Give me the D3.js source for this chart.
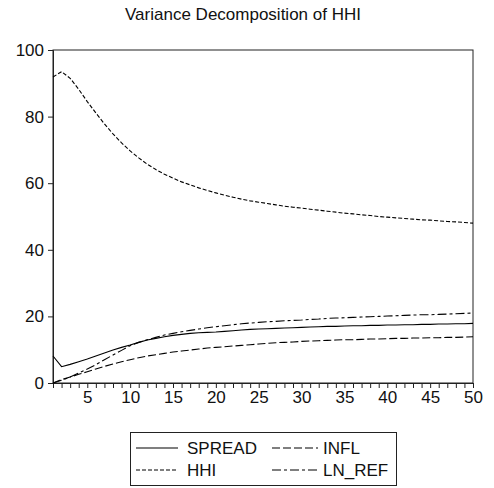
<!DOCTYPE html>
<html>
<head>
<meta charset="utf-8">
<script src="https://cdn.jsdelivr.net/npm/d3@7"></script>
<style>
  html, body { margin: 0; padding: 0; background: #fff; }
  svg { display: block; font-family: "Liberation Sans", Arial, Helvetica, sans-serif; }
</style>
</head>
<body>
<svg id="chart" width="494" height="488"></svg>
<script>
const title = "Variance Decomposition of HHI";
const periods = d3.range(1, 51);
const yTicks = [0, 20, 40, 60, 80, 100];
const xLabelTicks = [5, 10, 15, 20, 25, 30, 35, 40, 45, 50];

const spread = [8.1,4.9,5.6,6.4,7.2,8.1,9.0,9.9,10.7,11.4,12.2,12.9,13.4,13.9,14.3,14.6,14.9,15.1,15.2,15.3,15.5,15.7,15.9,16.1,16.2,16.3,16.4,16.5,16.6,16.7,16.8,16.9,17.0,17.0,17.1,17.2,17.2,17.3,17.3,17.4,17.4,17.5,17.5,17.6,17.6,17.7,17.7,17.8,17.8,17.9];
const hhi = [91.9,93.5,91.5,88.2,84.5,81.1,77.8,74.8,72.1,69.7,67.6,65.7,64.1,62.7,61.5,60.4,59.5,58.6,57.8,57.1,56.4,55.8,55.2,54.7,54.3,53.9,53.5,53.1,52.8,52.5,52.2,51.9,51.6,51.3,51.0,50.8,50.5,50.3,50.0,49.8,49.6,49.4,49.2,49.0,48.9,48.7,48.5,48.4,48.2,48.0];
const infl = [0.0,1.0,1.8,2.6,3.4,4.2,5.0,5.7,6.4,7.0,7.6,8.1,8.5,8.9,9.3,9.6,9.9,10.2,10.5,10.7,10.9,11.1,11.3,11.5,11.7,11.9,12.1,12.2,12.3,12.5,12.6,12.7,12.8,12.9,13.0,13.0,13.1,13.2,13.2,13.3,13.4,13.4,13.5,13.5,13.6,13.6,13.7,13.7,13.8,13.9];
const lnRef = [0.0,0.8,1.8,3.0,4.2,5.5,7.0,8.4,9.8,11.2,12.2,13.0,13.7,14.4,14.9,15.4,15.8,16.2,16.6,16.9,17.2,17.5,17.8,18.0,18.2,18.4,18.5,18.7,18.8,18.9,19.1,19.2,19.4,19.5,19.6,19.7,19.8,19.9,20.0,20.1,20.2,20.3,20.4,20.5,20.5,20.6,20.7,20.8,20.9,21.0];

const seriesNames = ["SPREAD", "HHI", "INFL", "LN_REF"];
const seriesValues = [spread, hhi, infl, lnRef];
const dashes = [null, "4,2", "8,3", "9,3,3,3"];

const svg = d3.select("#chart");
const L = 53, R = 473, T = 50, B = 383;
const FS = 17;
const x = d3.scaleLinear().domain([1, 50]).range([L, R]);
const y = d3.scaleLinear().domain([0, 100]).range([B, T]);

// title
svg.append("text").attr("x", 243).attr("y", 20).attr("text-anchor", "middle")
  .attr("font-size", FS).attr("fill", "#111").text(title);

// frame
svg.append("rect").attr("x", L).attr("y", T).attr("width", R - L).attr("height", B - T)
  .attr("fill", "none").attr("stroke", "#222").attr("stroke-width", 1);

// axes
const xAxis = d3.axisBottom(x).tickValues(periods).tickSize(5).tickPadding(3)
  .tickFormat(d => xLabelTicks.includes(d) ? d : "");
const gx = svg.append("g").attr("transform", `translate(0,${B})`).call(xAxis);
const yAxis = d3.axisLeft(y).tickValues(yTicks).tickSize(5).tickPadding(4);
const gy = svg.append("g").attr("transform", `translate(${L},0)`).call(yAxis);
[gx, gy].forEach(g => {
  g.select(".domain").attr("stroke", "#222");
  g.selectAll(".tick line").attr("stroke", "#222");
  g.selectAll("text").attr("font-size", FS).attr("fill", "#111")
    .attr("font-family", "\"Liberation Sans\", Arial, sans-serif");
});

// lines
const line = d3.line().x((d, i) => x(periods[i])).y(d => y(d));
seriesValues.forEach((vals, k) => {
  svg.append("path").datum(vals).attr("d", line)
    .attr("fill", "none").attr("stroke", "#000").attr("stroke-width", 1.1)
    .attr("stroke-dasharray", dashes[k]);
});

// legend
const lg = svg.append("g");
lg.append("rect").attr("x", 130.5).attr("y", 432.5).attr("width", 266).attr("height", 53)
  .attr("fill", "#fff").attr("stroke", "#222");
const cols = [{lx: 136, lw: 42, tx: 187}, {lx: 272, lw: 46, tx: 323}];
const rows = [448, 470];
seriesNames.forEach((name, k) => {
  const c = cols[k === 0 || k === 1 ? 0 : 1];
  const r = rows[k === 0 || k === 2 ? 0 : 1];
  lg.append("line").attr("x1", c.lx).attr("x2", c.lx + c.lw).attr("y1", r).attr("y2", r)
    .attr("stroke", "#000").attr("stroke-width", 1.1).attr("stroke-dasharray", dashes[k]);
  lg.append("text").attr("x", c.tx).attr("y", r + 6).attr("font-size", FS).attr("fill", "#111")
    .text(name);
});
</script>
</body>
</html>
